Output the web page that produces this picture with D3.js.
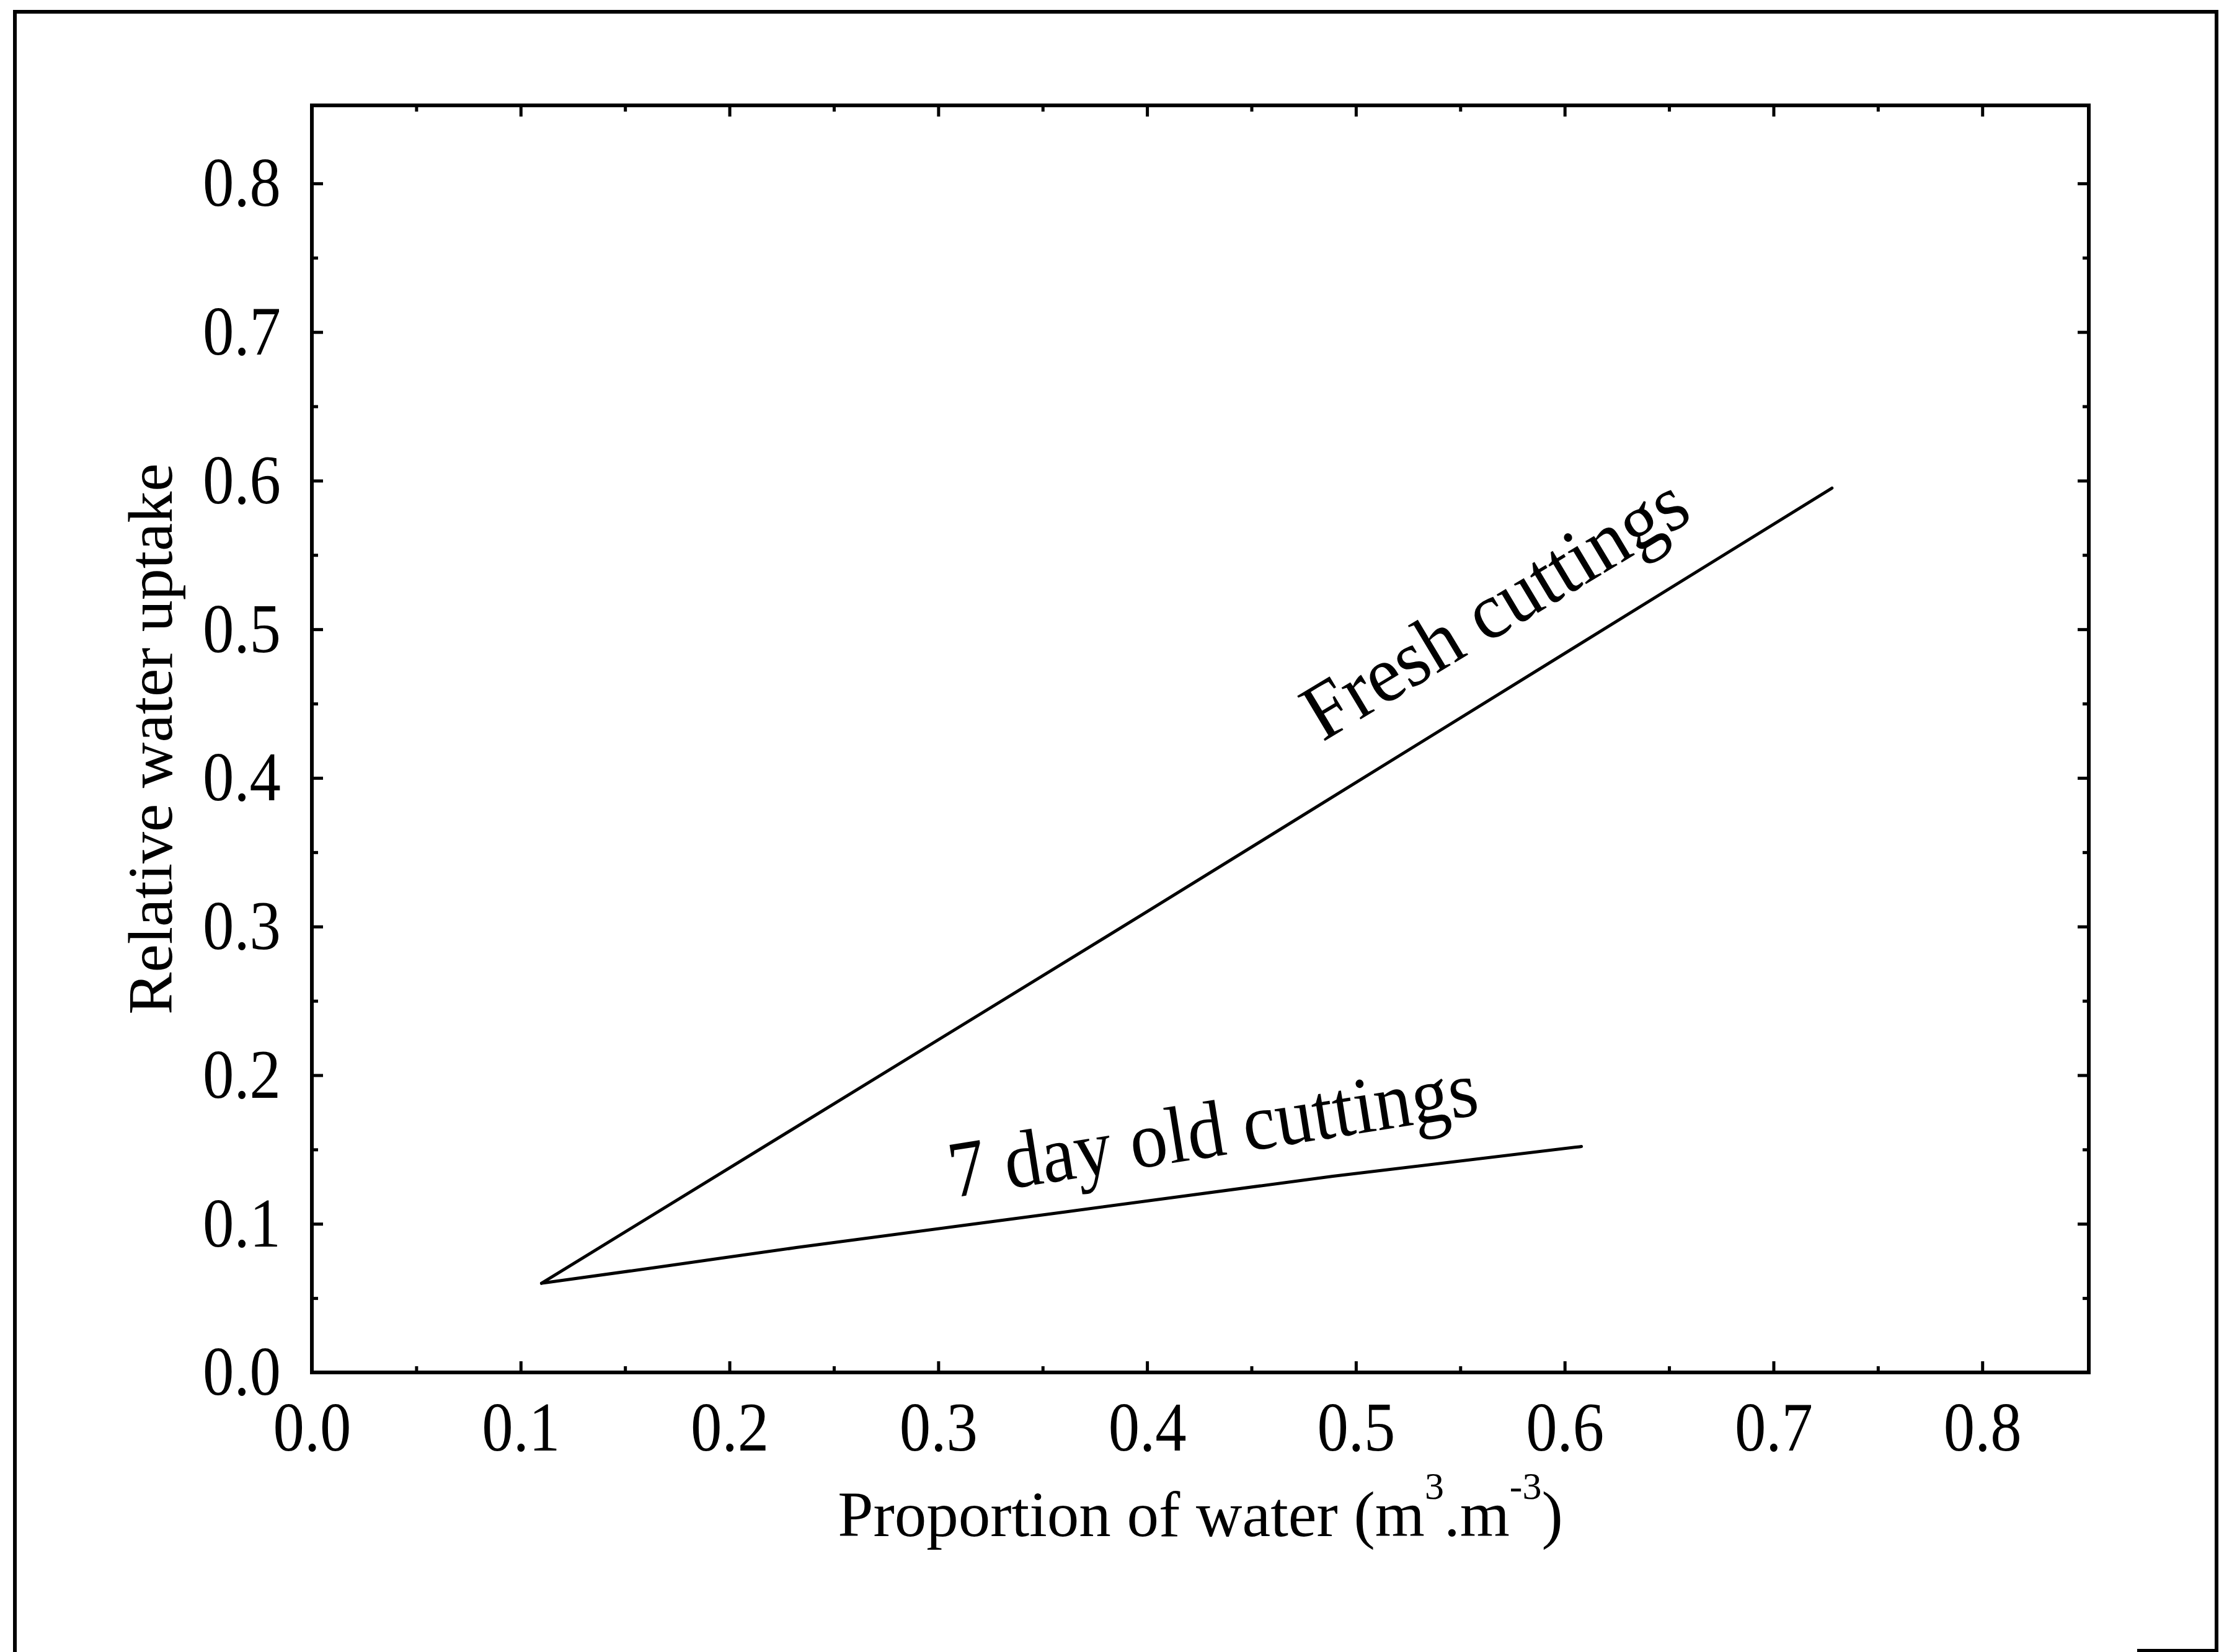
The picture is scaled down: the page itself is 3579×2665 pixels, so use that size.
<!DOCTYPE html>
<html>
<head>
<meta charset="utf-8">
<script src="https://cdn.jsdelivr.net/npm/d3@7"></script>
<style>
  html, body { margin: 0; padding: 0; background: #fff; }
  svg { display: block; }
  text { font-family: "Liberation Serif", "Times New Roman", serif; fill: #000; }
</style>
</head>
<body>
<svg id="chart" width="3579" height="2665"></svg>
<script>
// Axis ticks
const xTicks = [0.0, 0.1, 0.2, 0.3, 0.4, 0.5, 0.6, 0.7, 0.8];
const yTicks = [0.0, 0.1, 0.2, 0.3, 0.4, 0.5, 0.6, 0.7, 0.8];
const minorTicks = [0.05, 0.15, 0.25, 0.35, 0.45, 0.55, 0.65, 0.75];

// Fitted relations: relative water uptake vs. proportion of water
const freshX = [0.11, 0.40, 0.728];
const freshY = [0.06, 0.31, 0.595];
const oldX = [0.11, 0.164, 0.232, 0.361, 0.489, 0.608];
const oldY = [0.06, 0.0705, 0.084, 0.108, 0.132, 0.152];

// Curve labels: text, anchor (data units), angle, length
const labelText = ["Fresh cuttings", "7 day old cuttings"];
const labelX = [0.484, 0.307];
const labelY = [0.424, 0.1175];
const labelAngle = [-31, -9];
const labelLength = [700, 862];

const W = 3579, H = 2665;
const m = { left: 503, right: 3369, top: 170, bottom: 2214 };
const squeeze = 0.9;   // condensed serif face for numbers

const svg = d3.select("#chart");
svg.append("rect").attr("width", W).attr("height", H).attr("fill", "#fff");

// Outer figure border (cut off at the bottom edge)
svg.append("path")
  .attr("d", `M${W - 132},${H - 2} H${W - 4} V19 H24 V${H + 5}`)
  .attr("fill", "none").attr("stroke", "#000").attr("stroke-width", 6);

const x = d3.scaleLinear().domain([0, 0.851]).range([m.left, m.right]);
const y = d3.scaleLinear().domain([0, 0.8525]).range([m.bottom, m.top]);

const fmt = d3.format(".1f");
const fontSize = 112;

function styleAxis(g) {
  g.select(".domain").remove();
  g.selectAll(".tick line").attr("stroke", "#000").attr("stroke-width", 5);
  g.selectAll("text").attr("font-size", fontSize).attr("font-family", '"Liberation Serif", serif');
}

// Bottom axis with labels, inward ticks
svg.append("g").attr("transform", `translate(0,${m.bottom})`)
  .call(d3.axisBottom(x).tickValues(xTicks).tickFormat(fmt).tickSize(-18).tickPadding(46))
  .call(styleAxis)
  .call(g => g.selectAll(".tick text").attr("transform", `scale(${squeeze},1)`));
svg.append("g").attr("transform", `translate(0,${m.bottom})`)
  .call(d3.axisBottom(x).tickValues(minorTicks).tickFormat("").tickSize(-10))
  .call(styleAxis);
// Top axis, ticks only
svg.append("g").attr("transform", `translate(0,${m.top})`)
  .call(d3.axisTop(x).tickValues(xTicks).tickFormat("").tickSize(-18))
  .call(styleAxis);
svg.append("g").attr("transform", `translate(0,${m.top})`)
  .call(d3.axisTop(x).tickValues(minorTicks).tickFormat("").tickSize(-10))
  .call(styleAxis);
// Left axis with labels
svg.append("g").attr("transform", `translate(${m.left},0)`)
  .call(d3.axisLeft(y).tickValues(yTicks).tickFormat(fmt).tickSize(-18).tickPadding(50))
  .call(styleAxis)
  .call(g => g.selectAll(".tick text")
    .attr("x", -50 / squeeze)
    .attr("transform", `scale(${squeeze},1)`));
svg.append("g").attr("transform", `translate(${m.left},0)`)
  .call(d3.axisLeft(y).tickValues(minorTicks).tickFormat("").tickSize(-10))
  .call(styleAxis);
// Right axis, ticks only
svg.append("g").attr("transform", `translate(${m.right},0)`)
  .call(d3.axisRight(y).tickValues(yTicks).tickFormat("").tickSize(-18))
  .call(styleAxis);
svg.append("g").attr("transform", `translate(${m.right},0)`)
  .call(d3.axisRight(y).tickValues(minorTicks).tickFormat("").tickSize(-10))
  .call(styleAxis);

// Plot frame
svg.append("rect")
  .attr("x", m.left).attr("y", m.top)
  .attr("width", m.right - m.left).attr("height", m.bottom - m.top)
  .attr("fill", "none").attr("stroke", "#000").attr("stroke-width", 6);

// Curves
const line = d3.line().x(d => x(d[0])).y(d => y(d[1])).curve(d3.curveMonotoneX);
const series = [d3.zip(freshX, freshY), d3.zip(oldX, oldY)];
svg.selectAll("path.curve").data(series).join("path")
  .attr("class", "curve")
  .attr("d", line)
  .attr("fill", "none").attr("stroke", "#000").attr("stroke-width", 5)
  .attr("stroke-linejoin", "round").attr("stroke-linecap", "round");

// Curve labels
svg.selectAll("text.curve-label").data(labelText).join("text")
  .attr("class", "curve-label")
  .attr("font-size", 130)
  .attr("textLength", (d, i) => labelLength[i])
  .attr("lengthAdjust", "spacingAndGlyphs")
  .attr("transform", (d, i) => `translate(${x(labelX[i])},${y(labelY[i])}) rotate(${labelAngle[i]})`)
  .text(d => d);

// X axis title with superscripts
const xt = svg.append("text")
  .attr("x", (m.left + m.right) / 2).attr("y", 2478)
  .attr("text-anchor", "middle").attr("font-size", 103);
xt.append("tspan").text("Proportion of water (m");
xt.append("tspan").attr("font-size", 62).attr("dy", -60).text("3");
xt.append("tspan").attr("dy", 60).text(".m");
xt.append("tspan").attr("font-size", 62).attr("dy", -60).text("-3");
xt.append("tspan").attr("dy", 60).text(")");

// Y axis title
svg.append("text")
  .attr("transform", `translate(277,${(m.top + m.bottom) / 2}) rotate(-90)`)
  .attr("text-anchor", "middle").attr("font-size", 102)
  .text("Relative water uptake");
</script>
</body>
</html>
